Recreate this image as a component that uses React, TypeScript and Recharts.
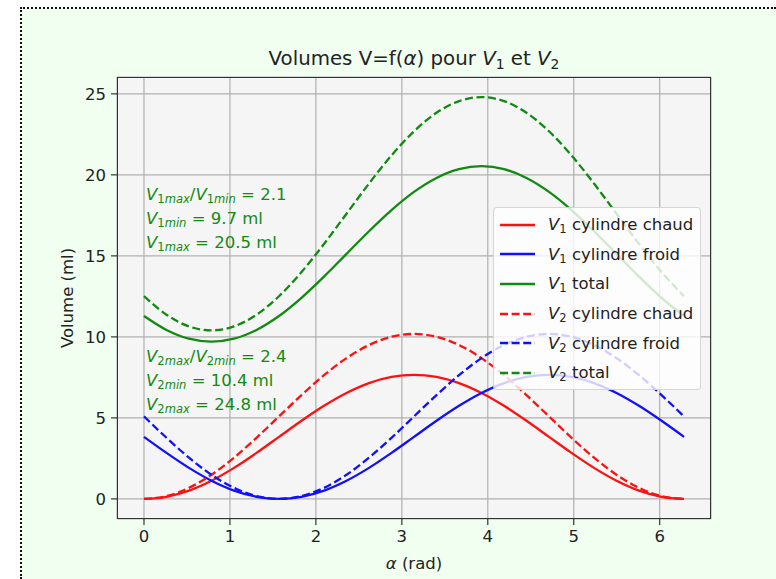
import React from 'react';
import { LineChart, Line, XAxis, YAxis, CartesianGrid } from 'recharts';

// alpha (rad), sampled every 15 degrees
const alpha = [0, 0.2618, 0.5236, 0.7854, 1.0472, 1.309, 1.5708, 1.8326, 2.0944, 2.3562, 2.618, 2.8798, 3.1416, 3.4034, 3.6652, 3.927, 4.1888, 4.4506, 4.7124, 4.9742, 5.236, 5.4978, 5.7596, 6.0214, 6.2832];

const v1Chaud = [0, 0.131, 0.513, 1.122, 1.915, 2.839, 3.83, 4.821, 5.745, 6.538, 7.147, 7.529, 7.66, 7.529, 7.147, 6.538, 5.745, 4.821, 3.83, 2.839, 1.915, 1.122, 0.513, 0.131, 0];
const v1Froid = [3.83, 2.839, 1.915, 1.122, 0.513, 0.131, 0, 0.131, 0.513, 1.122, 1.915, 2.839, 3.83, 4.821, 5.745, 6.538, 7.147, 7.529, 7.66, 7.529, 7.147, 6.538, 5.745, 4.821, 3.83];
const v1Total = [11.29, 10.43, 9.888, 9.704, 9.888, 10.43, 11.29, 12.412, 13.718, 15.12, 16.522, 17.828, 18.95, 19.81, 20.352, 20.536, 20.352, 19.81, 18.95, 17.828, 16.522, 15.12, 13.718, 12.412, 11.29];
const v2Chaud = [0, 0.174, 0.682, 1.491, 2.545, 3.773, 5.09, 6.407, 7.635, 8.689, 9.498, 10.006, 10.18, 10.006, 9.498, 8.689, 7.635, 6.407, 5.09, 3.773, 2.545, 1.491, 0.682, 0.174, 0];
const v2Froid = [5.09, 3.773, 2.545, 1.491, 0.682, 0.174, 0, 0.174, 0.682, 1.491, 2.545, 3.773, 5.09, 6.407, 7.635, 8.689, 9.498, 10.006, 10.18, 10.006, 9.498, 8.689, 7.635, 6.407, 5.09];
const v2Total = [12.51, 11.367, 10.647, 10.402, 10.647, 11.367, 12.51, 14.001, 15.737, 17.6, 19.463, 21.199, 22.69, 23.833, 24.553, 24.798, 24.553, 23.833, 22.69, 21.199, 19.463, 17.6, 15.737, 14.001, 12.51];

const xTicks = [0, 1, 2, 3, 4, 5, 6];
const yTicks = [0, 5, 10, 15, 20, 25];

const RED = '#ff1010';
const BLUE = '#1010ff';
const GREEN = '#118a11';

const seriesInfo = [
  { key: 'v1c', sub: '1', label: 'cylindre chaud', color: RED, dashed: false },
  { key: 'v1f', sub: '1', label: 'cylindre froid', color: BLUE, dashed: false },
  { key: 'v1t', sub: '1', label: 'total', color: GREEN, dashed: false },
  { key: 'v2c', sub: '2', label: 'cylindre chaud', color: RED, dashed: true },
  { key: 'v2f', sub: '2', label: 'cylindre froid', color: BLUE, dashed: true },
  { key: 'v2t', sub: '2', label: 'total', color: GREEN, dashed: true },
];

const data = alpha.map((a, i) => ({
  a,
  v1c: v1Chaud[i],
  v1f: v1Froid[i],
  v1t: v1Total[i],
  v2c: v2Chaud[i],
  v2f: v2Froid[i],
  v2t: v2Total[i],
}));

const FONT = '"DejaVu Sans", sans-serif';
const FS = 16.5;
const DASH = '8 3.6';
const LW = 2.3;

const subStyle: React.CSSProperties = { fontSize: '0.7em', verticalAlign: '-0.3em', fontStyle: 'normal', lineHeight: 0 };
const subItalic: React.CSSProperties = { fontStyle: 'italic' };

const V = ({ sub, tail }: { sub: string; tail?: string }) => (
  <span>
    <i>V</i>
    <span style={subStyle}>
      {sub}
      {tail ? <i style={subItalic}>{tail}</i> : null}
    </span>
  </span>
);

export default function App() {
  return (
    <div style={{ position: 'absolute', left: 0, top: 0, width: 776, height: 579, overflow: 'hidden', fontFamily: FONT }}>
      <div
        style={{
          position: 'absolute',
          left: 20,
          top: 7,
          width: 756,
          height: 572,
          boxSizing: 'border-box',
          borderTop: '2px dotted #111',
          borderLeft: '2px dotted #111',
          background: '#f0fff0',
        }}
      />
      <div style={{ position: 'absolute', left: 0, top: 0 }}>
        <LineChart
          width={776}
          height={579}
          data={data}
          margin={{ top: 77, right: 65, bottom: 30, left: 67 }}
        >
          <CartesianGrid stroke="#b0b0b0" strokeWidth={1.2} fill="#f5f5f5" fillOpacity={1} />
          <XAxis
            dataKey="a"
            type="number"
            domain={[-0.314, 6.597]}
            ticks={xTicks}
            interval={0}
            allowDataOverflow
            axisLine={false}
            tickLine={{ stroke: '#333', strokeWidth: 1.2 }}
            tickSize={6}
            tickMargin={5}
            height={30}
            tick={{ fontSize: FS, fill: '#222', fontFamily: FONT }}
          />
          <YAxis
            type="number"
            domain={[-1.24, 26.04]}
            ticks={yTicks}
            interval={0}
            allowDataOverflow
            axisLine={false}
            tickLine={{ stroke: '#333', strokeWidth: 1.2 }}
            tickSize={6}
            tickMargin={5}
            width={50}
            tick={{ fontSize: FS, fill: '#222', fontFamily: FONT }}
          />
          {seriesInfo.map((s) => (
            <Line
              key={s.key}
              dataKey={s.key}
              type="monotone"
              stroke={s.color}
              strokeWidth={LW}
              strokeDasharray={s.dashed ? DASH : undefined}
              dot={false}
              activeDot={false}
              isAnimationActive={false}
            />
          ))}
        </LineChart>
      </div>
      {/* axes frame */}
      <div
        style={{
          position: 'absolute',
          left: 117,
          top: 77,
          width: 594,
          height: 442,
          boxSizing: 'border-box',
          border: '1.3px solid #333',
          pointerEvents: 'none',
        }}
      />
      {/* title */}
      <div
        style={{
          position: 'absolute',
          left: 117,
          width: 594,
          top: 47,
          textAlign: 'center',
          fontSize: 19.8,
          color: '#222',
          whiteSpace: 'nowrap',
        }}
      >
        Volumes V=f(<i>α</i>) pour <V sub="1" /> et <V sub="2" />
      </div>
      {/* y label */}
      <div
        style={{
          position: 'absolute',
          left: 67,
          top: 298,
          transform: 'translate(-50%, -50%) rotate(-90deg)',
          fontSize: FS,
          color: '#222',
          whiteSpace: 'nowrap',
        }}
      >
        Volume (ml)
      </div>
      {/* x label */}
      <div
        style={{
          position: 'absolute',
          left: 117,
          width: 594,
          top: 554,
          textAlign: 'center',
          fontSize: FS,
          color: '#222',
          whiteSpace: 'nowrap',
        }}
      >
        <i>α</i> (rad)
      </div>
      {/* annotations */}
      <div style={{ position: 'absolute', left: 146, top: 183, fontSize: FS, color: GREEN, lineHeight: '24px', whiteSpace: 'nowrap' }}>
        <div>
          <V sub="1" tail="max" />/<V sub="1" tail="min" /> = 2.1
        </div>
        <div>
          <V sub="1" tail="min" /> = 9.7 ml
        </div>
        <div>
          <V sub="1" tail="max" /> = 20.5 ml
        </div>
      </div>
      <div style={{ position: 'absolute', left: 146, top: 345, fontSize: FS, color: GREEN, lineHeight: '24px', whiteSpace: 'nowrap' }}>
        <div>
          <V sub="2" tail="max" />/<V sub="2" tail="min" /> = 2.4
        </div>
        <div>
          <V sub="2" tail="min" /> = 10.4 ml
        </div>
        <div>
          <V sub="2" tail="max" /> = 24.8 ml
        </div>
      </div>
      {/* legend */}
      <div
        style={{
          position: 'absolute',
          left: 493,
          top: 207,
          width: 208,
          height: 183,
          boxSizing: 'border-box',
          background: 'rgba(255,255,255,0.8)',
          border: '1px solid rgba(204,204,204,0.8)',
          borderRadius: 4,
          paddingTop: 2,
        }}
      >
        {seriesInfo.map((s) => (
          <div key={s.key} style={{ display: 'flex', alignItems: 'center', height: 29.6, fontSize: FS, color: '#222', whiteSpace: 'nowrap' }}>
            <svg width={54} height={10} style={{ flex: 'none' }}>
              <line x1={6} x2={41} y1={5} y2={5} stroke={s.color} strokeWidth={LW} strokeDasharray={s.dashed ? DASH : undefined} />
            </svg>
            <span>
              <V sub={s.sub} /> {s.label}
            </span>
          </div>
        ))}
      </div>
    </div>
  );
}
